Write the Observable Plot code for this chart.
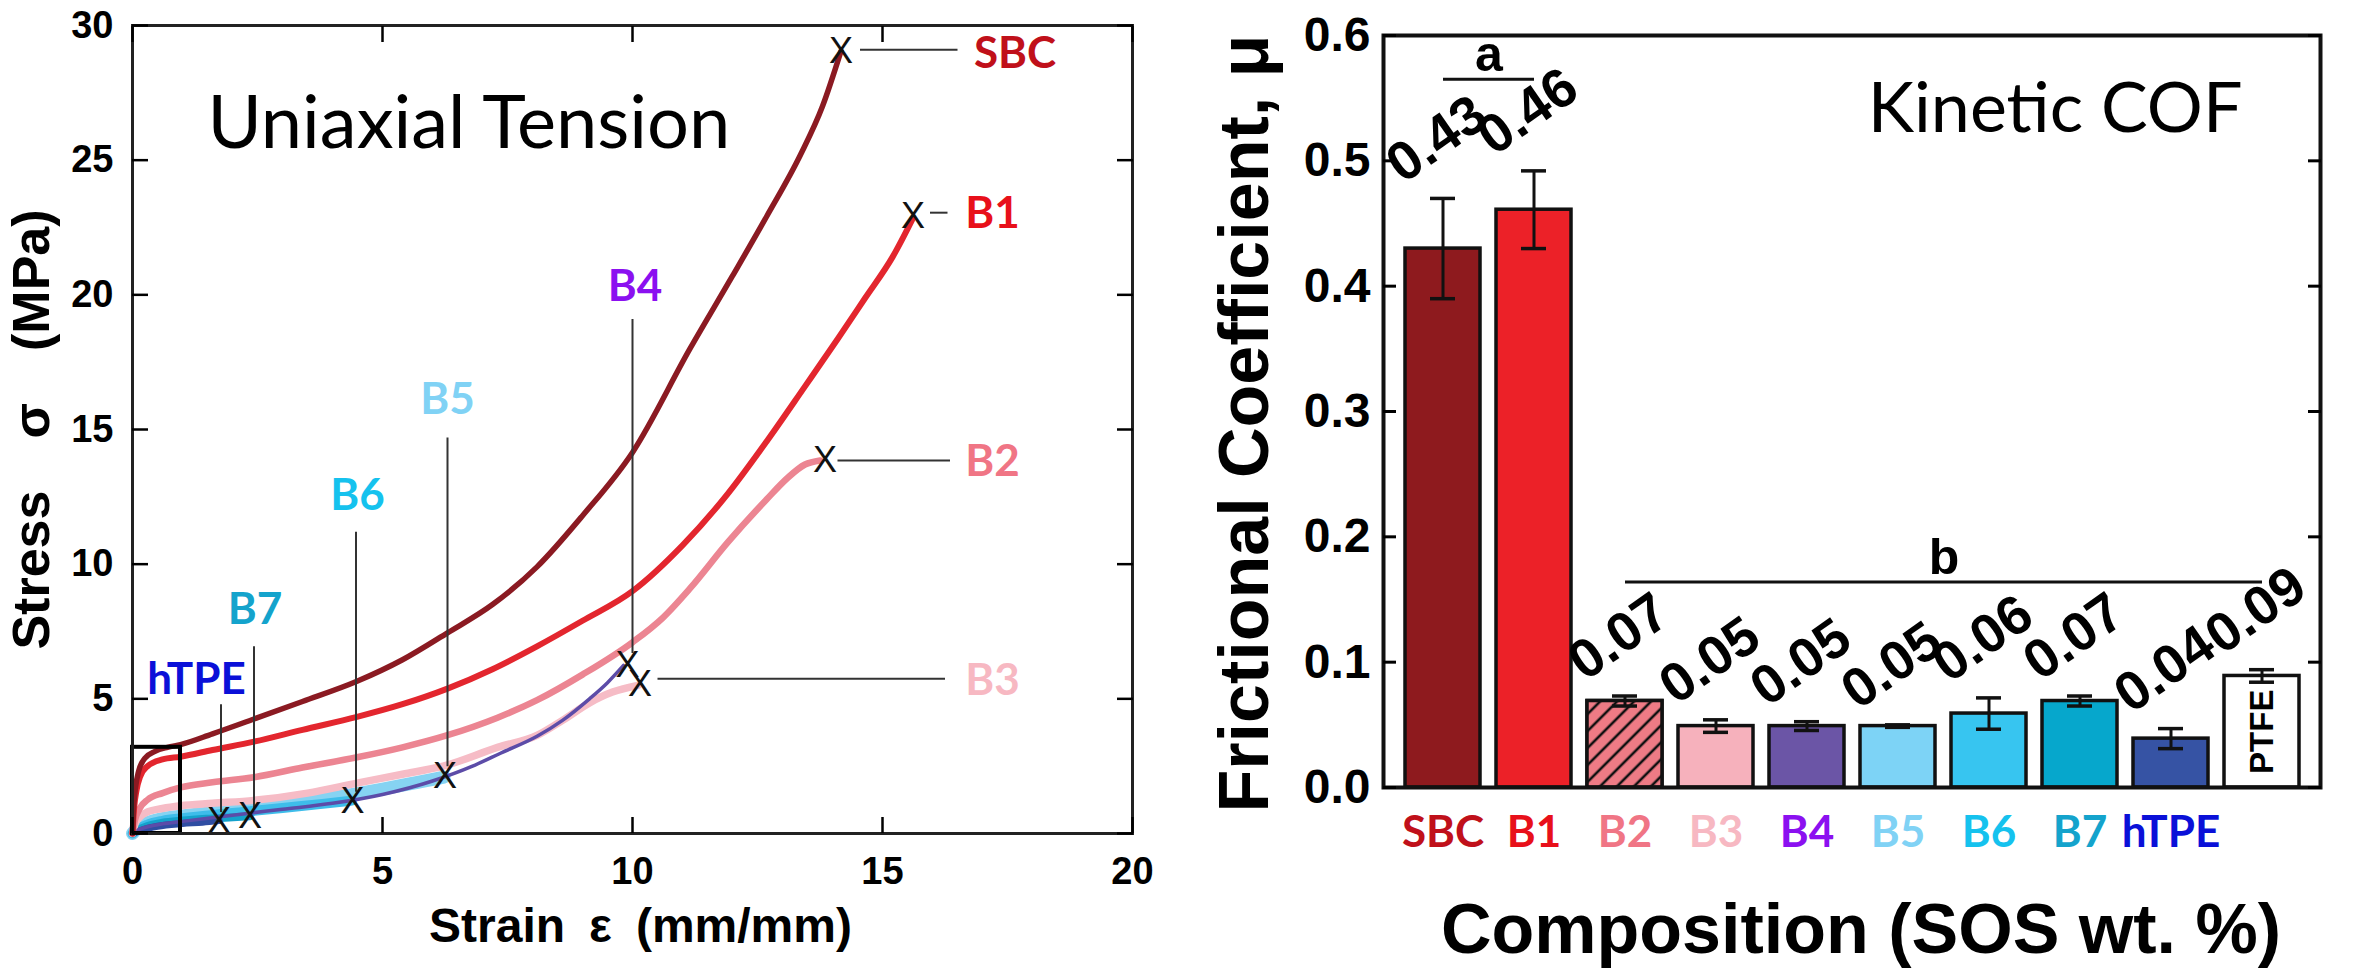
<!DOCTYPE html>
<html><head><meta charset="utf-8">
<script src="https://cdn.jsdelivr.net/npm/d3@7"></script>
<script src="https://cdn.jsdelivr.net/npm/@observablehq/plot@0.6"></script>
<style>
html,body{margin:0;padding:0;background:#fff;}
#wrap{position:relative;width:2369px;height:971px;overflow:hidden;background:#fff;}
#left{position:absolute;left:0;top:0;}
#right{position:absolute;left:1190px;top:0;}
</style></head><body>
<svg width="0" height="0" style="position:absolute"><defs>
<pattern id="b2hatch" patternUnits="userSpaceOnUse" width="12" height="12" patternTransform="rotate(45)">
<rect width="12" height="12" fill="#EE7B85"/><line x1="6" y1="0" x2="6" y2="12" stroke="#111" stroke-width="2.6"/>
</pattern></defs></svg>
<div id="wrap"><div id="left"></div><div id="right"></div></div>
<script>
// ---------- Left panel: uniaxial tension curves ----------
const strainSBC = [0,0.02,0.06,0.12,0.25,0.45,0.7,0.96,1.6,2.43,3.4,4.49,5.4,6.3,7.2,8.09,9.0,10.0,11.15,12.0,12.68,13.36,13.8,14.17];
const stressSBC = [0,0.9,1.7,2.3,2.8,3.05,3.2,3.3,3.7,4.25,4.9,5.65,6.45,7.45,8.5,9.9,11.8,14.15,18.0,20.7,22.9,25.2,27.0,29.05];
const strainB1 = [0,0.03,0.08,0.15,0.3,0.6,0.96,1.6,2.43,3.4,4.49,5.4,6.3,7.2,8.09,9.0,10.0,11.0,11.9,12.7,13.45,14.1,14.66,15.2,15.61];
const stressB1 = [0,0.9,1.6,2.1,2.5,2.75,2.85,3.1,3.41,3.85,4.33,4.8,5.38,6.1,6.95,7.9,9.0,10.7,12.6,14.6,16.6,18.35,19.9,21.4,22.85];
const strainB2 = [0,0.05,0.15,0.3,0.6,0.96,1.6,2.43,3.4,4.49,5.4,6.3,7.3,8.09,9.0,10.0,10.6,11.15,11.9,12.68,13.1,13.45,13.75];
const stressB2 = [0,0.5,0.95,1.25,1.5,1.71,1.9,2.09,2.45,2.83,3.2,3.65,4.3,4.95,5.9,7.1,8.0,9.1,10.8,12.4,13.2,13.7,13.85];
const strainB3 = [0,0.05,0.15,0.3,0.6,0.96,1.6,2.43,3.5,4.49,5.4,6.25,7.3,8.1,8.6,9.14,9.6,10.11];
const stressB3 = [0,0.35,0.62,0.8,0.93,1.03,1.12,1.23,1.5,1.87,2.2,2.52,3.2,3.65,4.2,4.85,5.25,5.5];
const strainB4 = [0,0.1,0.3,0.6,1,2,3,4,5,6,6.8,7.36,8.1,8.6,9.14,9.5,9.82];
const stressB4 = [0,0.12,0.25,0.36,0.45,0.68,0.9,1.12,1.45,1.95,2.5,2.98,3.62,4.2,5.0,5.6,6.24];
const strainB5 = [0,0.1,0.3,0.6,1,2,3,4,5,5.7,6.23];
const stressB5 = [0,0.2,0.4,0.55,0.65,0.85,1.07,1.33,1.65,1.9,2.09];
const strainB6 = [0,0.1,0.3,0.6,1,2,3,3.8,4.39];
const stressB6 = [0,0.15,0.33,0.47,0.57,0.76,0.95,1.1,1.22];
const strainB7 = [0,0.1,0.3,0.6,1,1.6,2.34];
const stressB7 = [0,0.12,0.28,0.4,0.48,0.56,0.64];
const strainHTPE = [0,0.2,0.5,1,1.4,1.73];
const stressHTPE = [0,0.14,0.27,0.37,0.42,0.48];

const curveSeries = ["B5","B6","B7","hTPE","B3","B4","B2","B1","SBC"];
const curveStrain = {SBC:strainSBC,B1:strainB1,B2:strainB2,B3:strainB3,B4:strainB4,B5:strainB5,B6:strainB6,B7:strainB7,hTPE:strainHTPE};
const curveStress = {SBC:stressSBC,B1:stressB1,B2:stressB2,B3:stressB3,B4:stressB4,B5:stressB5,B6:stressB6,B7:stressB7,hTPE:stressHTPE};
const curveColors = {SBC:"#8B1A22",B1:"#E3262E",B2:"#EC8592",B3:"#F6BCC6",B4:"#5C4CA8",B5:"#86D3F2",B6:"#3EBDEA",B7:"#14A2CB",hTPE:"#2F4DA2"};
const curveWidths = {SBC:5.5,B1:6,B2:6.5,B3:7.5,B4:3.5,B5:13,B6:10,B7:8,hTPE:7};

// break points (X marks)
const breakSeries = ["SBC","B1","B2","B4","B3","B5","B6","B7","hTPE"];
const breakStrain = [14.17,15.61,13.85,9.9,10.15,6.25,4.4,2.35,1.73];
const breakStress = [29.05,22.9,13.85,6.25,5.55,2.1,1.2,0.62,0.45];

// callout labels
const labelNames = ["SBC","B1","B2","B3","B4","B5","B6","B7","hTPE"];
const labelStrain = [17.65,17.2,17.2,17.2,10.05,6.3,4.5,2.45,1.28];
const labelStress = [28.95,23.0,13.8,5.65,20.3,16.1,12.55,8.3,5.7];
const labelColors = {SBC:"#C0101A",B1:"#E8101A",B2:"#F07585",B3:"#F7B8C2",B4:"#8B10F0",B5:"#80D2F5",B6:"#15C2EE",B7:"#14A3CC",hTPE:"#0A10D8"};
// leader lines
const leaderX1 = [14.55,15.95,14.1,10.5,10.0,6.3,4.47,2.43,1.77];
const leaderY1 = [29.1,23.05,13.85,5.75,6.7,2.5,1.55,0.95,0.8];
const leaderX2 = [16.5,16.3,16.35,16.25,10.0,6.3,4.47,2.43,1.77];
const leaderY2 = [29.1,23.05,13.85,5.75,19.1,14.7,11.2,6.95,4.8];

const zoomBox = [{x1:0,x2:0.96,y1:0,y2:3.2}];
const strainTicks = [0,5,10,15,20];
const stressTicks = [0,5,10,15,20,25,30];

// ---------- Right panel: kinetic COF ----------
const cats = ["SBC","B1","B2","B3","B4","B5","B6","B7","hTPE","PTFE"];
const cof = [0.43,0.461,0.069,0.049,0.049,0.049,0.059,0.069,0.039,0.089];
const cofErr = [0.04,0.031,0.004,0.005,0.0035,0.001,0.0125,0.004,0.008,0.005];
const barColors = ["#8E1A1E","#EC2128","#EE7B85","#F6B1BC","#6B55A6","#7DD3F6","#37C5F0","#06A7CC","#3653A4","#FFFFFF"];
const catLabelColors = ["#C0101A","#E8101A","#F07585","#F7B8C2","#8B10F0","#80D2F5","#15C2EE","#14A3CC","#0A10D8"];
const cofTicks = [0,0.1,0.2,0.3,0.4,0.5,0.6];
const groups = [{label:"a", from:"SBC", to:"B1", mid:"SBC", y:0.565},{label:"b", from:"B2", to:"PTFE", mid:"B5", y:0.164}];

// ---------- build left ----------
const LBL = "Lato, 'Open Sans', sans-serif";
const SANS = "'Liberation Sans', Arial, sans-serif";

const curveMarks = curveSeries.map(s => {
  const rows = curveStrain[s].map((x,i) => ({strain:x, stress:curveStress[s][i]}));
  return Plot.line(rows, {x:"strain", y:"stress", stroke:curveColors[s], strokeWidth:curveWidths[s], curve:"monotone-x", strokeLinecap:"round"});
});
const breaks = breakSeries.map((s,i)=>({s, x:breakStrain[i], y:breakStress[i]}));
const labels = labelNames.map((s,i)=>({s, x:labelStrain[i], y:labelStress[i]}));
const leaders = leaderX1.map((v,i)=>({x1:v, y1:leaderY1[i], x2:leaderX2[i], y2:leaderY2[i]}));

const left = Plot.plot({
  width:1200, height:971,
  marginLeft:132, marginRight:68, marginTop:25, marginBottom:138,
  x:{domain:[0,20]}, y:{domain:[0,30]},
  style:{fontFamily:SANS, fontWeight:"bold", fontSize:"38px", background:"white", overflow:"visible", color:"black"},
  marks:[
    ...curveMarks,
    Plot.rect(zoomBox, {x1:"x1", x2:"x2", y1:"y1", y2:"y2", fill:"none", stroke:"black", strokeWidth:4}),
    Plot.link(leaders, {x1:"x1", y1:"y1", x2:"x2", y2:"y2", stroke:"#333", strokeWidth:2}),
    Plot.text(breaks, {x:"x", y:"y", text:()=>"X", fontSize:36, fontWeight:"normal", fill:"#111", lineAnchor:"middle", fontFamily:SANS}),
    ...labels.map(d => Plot.text([d], {x:"x", y:"y", text:"s", fill:labelColors[d.s], fontFamily:LBL, fontSize:44, fontWeight:"bold", lineAnchor:"middle"})),
    Plot.text(["Uniaxial Tension"], {frameAnchor:"top-left", text:d=>d, dx:75, dy:99, textAnchor:"start", lineAnchor:"middle", fontFamily:LBL, fontWeight:"normal", fontSize:74, fill:"black"}),
    Plot.frame({stroke:"#222", strokeWidth:3}),
    Plot.axisX({ticks:strainTicks, tickSize:-16, tickPadding:40, label:null, strokeWidth:2.5, fontSize:38, tickFormat:d=>String(d)}),
    Plot.axisX({anchor:"top", ticks:strainTicks, tickSize:-16, label:null, strokeWidth:2.5, tickFormat:()=>""}),
    Plot.axisY({ticks:stressTicks, tickSize:-16, tickPadding:35, label:null, strokeWidth:2.5, fontSize:38, tickFormat:d=>String(d)}),
    Plot.axisY({anchor:"right", ticks:stressTicks, tickSize:-16, label:null, strokeWidth:2.5, tickFormat:()=>""}),
    Plot.text(["Strain\u2002\u03B5\u2002(mm/mm)"], {frameAnchor:"bottom", text:d=>d, dx:8, dy:93, textAnchor:"middle", lineAnchor:"middle", fontSize:48, fontWeight:"bold", fill:"black"}),
    Plot.text(["Stress\u2003\u03C3\u2003(MPa)"], {frameAnchor:"left", text:d=>d, dx:-100, rotate:-90, textAnchor:"middle", lineAnchor:"middle", fontSize:52, fontWeight:"bold", fill:"black"})
  ]
});
document.getElementById("left").appendChild(left);

// ---------- build right ----------
const fmt2 = d3.format(".2f");
const bars = cats.map((c,i)=>({cat:c, cof:cof[i], err:cofErr[i]}));
const groupRows = groups.map(g => ({...g}));

const right = Plot.plot({
  width:1179, height:971,
  marginLeft:193, marginRight:49, marginTop:35, marginBottom:184,
  x:{domain:cats, paddingInner:0.18, paddingOuter:0.2, axis:null},
  y:{domain:[0,0.6]},
  color:{domain:cats, range:barColors},
  style:{fontFamily:SANS, fontWeight:"bold", fontSize:"48px", background:"white", overflow:"visible", color:"black"},
  marks:[
    Plot.barY(bars, {x:"cat", y:"cof", fill:"cat", stroke:"#111", strokeWidth:3.5}),
    Plot.barY(bars.filter(d=>d.cat==="B2"), {x:"cat", y:"cof", fill:"url(#b2hatch)", stroke:"#111", strokeWidth:3.5}),
    Plot.ruleX(bars, {x:"cat", y1:d=>d.cof-d.err, y2:d=>d.cof+d.err, stroke:"#111", strokeWidth:3}),
    Plot.tickY(bars, {x:"cat", y:d=>d.cof+d.err, insetLeft:25, insetRight:25, stroke:"#111", strokeWidth:3.5}),
    Plot.tickY(bars, {x:"cat", y:d=>d.cof-d.err, insetLeft:25, insetRight:25, stroke:"#111", strokeWidth:3.5}),
    Plot.text(bars, {x:"cat", y:d=>d.cof+d.err, text:d=>fmt2(d.cof), rotate:-35, textAnchor:"start", lineAnchor:"bottom", dx:-40, dy:-14, fontSize:55, fontWeight:"bold", fill:"black"}),
    Plot.text(bars.filter(d=>d.cat==="PTFE"), {x:"cat", y:d=>d.cof/2, text:()=>"PTFE", rotate:-90, textAnchor:"middle", lineAnchor:"middle", fontSize:33, fontWeight:"bold", fill:"black"}),
    ...cats.slice(0,9).map((c,i)=>Plot.text([c], {x:d=>d, y:()=>0, text:d=>d, dy:45, lineAnchor:"middle", fontFamily:LBL, fontSize:44, fontWeight:"bold", fill:catLabelColors[i]})),
    Plot.link(groupRows, {x1:"from", x2:"to", y1:"y", y2:"y", stroke:"#111", strokeWidth:3}),
    Plot.text(groupRows, {x:"mid", y:"y", text:"label", dx:46, dy:-8, lineAnchor:"bottom", fontSize:50, fontWeight:"bold", fill:"black"}),
    Plot.text(["Kinetic COF"], {frameAnchor:"top-right", text:d=>d, dx:-78, dy:74, textAnchor:"end", lineAnchor:"middle", fontFamily:LBL, fontWeight:"normal", fontSize:70, fill:"black"}),
    Plot.frame({stroke:"#111", strokeWidth:4}),
    Plot.axisY({ticks:cofTicks, tickSize:-13, tickPadding:26, label:null, strokeWidth:3, fontSize:48, tickFormat:d3.format(".1f")}),
    Plot.axisY({anchor:"right", ticks:cofTicks, tickSize:-13, label:null, strokeWidth:3, tickFormat:()=>""}),
    Plot.text(["Composition (SOS wt. %)"], {frameAnchor:"bottom", text:d=>d, dx:9, dy:143, textAnchor:"middle", lineAnchor:"middle", fontSize:70, fontWeight:"bold", fill:"black"}),
    Plot.text(["Frictional Coefficient, \u03BC"], {frameAnchor:"left", text:d=>d, dx:-138, dy:12, rotate:-90, textAnchor:"middle", lineAnchor:"middle", fontSize:70, fontWeight:"bold", fill:"black"})
  ]
});
document.getElementById("right").appendChild(right);
</script>
</body></html>
